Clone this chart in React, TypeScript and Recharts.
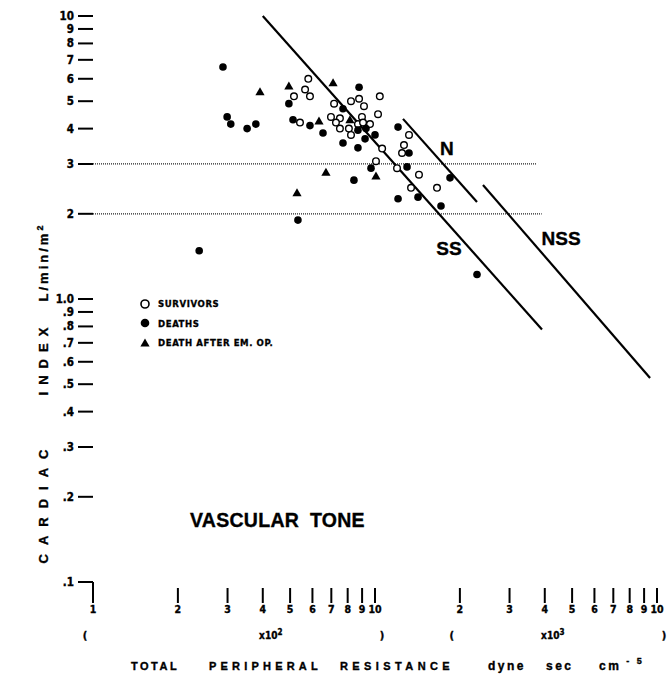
import React from "react";
import {
  ScatterChart,
  Scatter,
  XAxis,
  YAxis,
  ReferenceLine,
  ReferenceDot,
  Legend,
} from "recharts";

const FONT = "'Liberation Sans Narrow', 'DejaVu Sans Condensed', 'Liberation Sans', Arial, sans-serif";
const FONT_WIDE = "'Liberation Sans', Arial, sans-serif";

// total peripheral resistance (dyne sec cm-5) vs cardiac index (L/min/m2)
const survivors = [
  { x: 580, y: 6.0 }, { x: 516, y: 5.2 }, { x: 565, y: 5.5 }, { x: 588, y: 5.2 },
  { x: 542, y: 4.2 }, { x: 716, y: 4.9 }, { x: 822, y: 5.0 }, { x: 878, y: 5.1 },
  { x: 914, y: 4.8 }, { x: 1040, y: 5.2 }, { x: 1025, y: 4.5 }, { x: 698, y: 4.4 },
  { x: 751, y: 4.35 }, { x: 727, y: 4.2 }, { x: 751, y: 4.0 }, { x: 808, y: 4.0 },
  { x: 822, y: 3.8 }, { x: 870, y: 4.15 }, { x: 899, y: 4.4 }, { x: 907, y: 4.2 },
  { x: 960, y: 4.15 }, { x: 1060, y: 3.4 }, { x: 1008, y: 3.07 }, { x: 1320, y: 3.8 },
  { x: 1267, y: 3.5 }, { x: 1247, y: 3.28 }, { x: 1197, y: 2.9 }, { x: 1432, y: 2.75 },
  { x: 1342, y: 2.47 }, { x: 1659, y: 2.47 },
];

const deaths = [
  { x: 289, y: 6.6 }, { x: 299, y: 4.4 }, { x: 308, y: 4.15 }, { x: 352, y: 4.0 },
  { x: 378, y: 4.15 }, { x: 495, y: 4.9 }, { x: 512, y: 4.3 }, { x: 588, y: 4.1 },
  { x: 654, y: 3.86 }, { x: 878, y: 5.6 }, { x: 770, y: 4.7 }, { x: 870, y: 3.95 },
  { x: 929, y: 4.0 }, { x: 922, y: 3.68 }, { x: 1000, y: 3.8 }, { x: 770, y: 3.56 },
  { x: 870, y: 3.42 }, { x: 1207, y: 4.05 }, { x: 1320, y: 3.28 }, { x: 968, y: 2.9 },
  { x: 1299, y: 2.93 }, { x: 842, y: 2.63 }, { x: 1207, y: 2.26 }, { x: 1421, y: 2.29 },
  { x: 1714, y: 2.13 }, { x: 1845, y: 2.68 }, { x: 533, y: 1.9 }, { x: 238, y: 1.48 },
  { x: 2300, y: 1.22 },
];

const deathsAfterOp = [
  { x: 391, y: 5.4 }, { x: 495, y: 5.65 }, { x: 710, y: 5.8 }, { x: 633, y: 4.25 },
  { x: 815, y: 4.3 }, { x: 670, y: 2.8 }, { x: 1008, y: 2.72 }, { x: 529, y: 2.37 },
];

const seriesNames = ["SURVIVORS", "DEATHS", "DEATH AFTER EM. OP."];

const xTicks = [100, 200, 300, 400, 500, 600, 700, 800, 900, 1000,
  2000, 3000, 4000, 5000, 6000, 7000, 8000, 9000, 10000];
const xTickLabels = ["1", "2", "3", "4", "5", "6", "7", "8", "9", "10",
  "2", "3", "4", "5", "6", "7", "8", "9", "10"];
const yTicks = [0.1, 0.2, 0.3, 0.4, 0.5, 0.6, 0.7, 0.8, 0.9, 1, 2, 3, 4, 5, 6, 7, 8, 9, 10];
const yTickLabels = [".1", ".2", ".3", ".4", ".5", ".6", ".7", ".8", ".9", "1.0",
  "2", "3", "4", "5", "6", "7", "8", "9", "10"];

// bracket groups under the x axis
const openBrackets = [100, 2000];
const closeBrackets = [1000, 10000];
const multipliers = [{ at: 400, exp: "2" }, { at: 4000, exp: "3" }];

const lineSS = [{ x: 400, y: 10 }, { x: 3910, y: 0.78 }];
const lineN = [{ x: 1257, y: 4.33 }, { x: 2300, y: 2.2 }];
const lineNSS = [{ x: 2415, y: 2.53 }, { x: 9450, y: 0.526 }];
const dotted3 = [{ x: 100, y: 3 }, { x: 3750, y: 3 }];
const dotted2 = [{ x: 100, y: 2 }, { x: 3900, y: 2 }];
const lineLabels = [
  { x: 1800, y: 3.42, text: "N" },
  { x: 1830, y: 1.51, text: "SS" },
  { x: 4570, y: 1.64, text: "NSS" },
];

// heavy scan look
const INK = { fill: "#000", stroke: "#000", strokeWidth: 0.35 };

const OpenDot = (p: any) => (
  <circle cx={p.cx} cy={p.cy} r={3.3} fill="#fff" stroke="#000" strokeWidth={1.4} />
);
const FilledDot = (p: any) => <circle cx={p.cx} cy={p.cy} r={3.8} fill="#000" />;
const Tri = (p: any) => (
  <polygon
    points={`${p.cx},${p.cy - 4.6} ${p.cx + 4.6},${p.cy + 3.4} ${p.cx - 4.6},${p.cy + 3.4}`}
    fill="#000"
  />
);

function YTick(props: any) {
  const { x, y, payload } = props;
  const i = yTicks.indexOf(payload.value);
  return (
    <g>
      <line x1={x - 15} x2={x} y1={y} y2={y} stroke="#000" strokeWidth={2} />
      <text x={x - 19} y={y} dy={4} textAnchor="end" fontFamily={FONT} fontWeight="bold" fontSize={11.5} {...INK}>
        {yTickLabels[i]}
      </text>
    </g>
  );
}

function XTick(props: any) {
  const { x, y, payload } = props;
  const v = payload.value;
  const i = xTicks.indexOf(v);
  const mult = multipliers.find((m) => m.at === v);
  return (
    <g fontFamily={FONT} fontWeight="bold" {...INK}>
      <line x1={x} x2={x} y1={i === 0 ? y : y + 6} y2={y + 21} stroke="#000" strokeWidth={2} />
      <text x={x} y={y + 31} textAnchor="middle" fontSize={10.5}>{xTickLabels[i]}</text>
      {openBrackets.includes(v) && (
        <text x={x - 8} y={y + 57} textAnchor="middle" fontSize={11}>(</text>
      )}
      {closeBrackets.includes(v) && (
        <text x={x + 7} y={y + 57} textAnchor="middle" fontSize={11}>)</text>
      )}
      {mult && (
        <text x={x + 8} y={y + 57} textAnchor="middle" fontSize={10}>
          x10<tspan dy={-4} fontSize={8}>{mult.exp}</tspan>
        </text>
      )}
    </g>
  );
}

function XTitle(props: any) {
  const { x, y } = props.viewBox;
  const base = y + 88;
  const st = { fontFamily: FONT_WIDE, fontWeight: "bold" as const, fontSize: 11, ...INK };
  return (
    <g>
      <text x={x + 38} y={base} {...st} letterSpacing={2.5}>TOTAL</text>
      <text x={x + 116} y={base} {...st} letterSpacing={4.2}>PERIPHERAL</text>
      <text x={x + 247} y={base} {...st} letterSpacing={4.4}>RESISTANCE</text>
      <text x={x + 395} y={base} {...st} fontSize={12} letterSpacing={2.5}>dyne</text>
      <text x={x + 453} y={base} {...st} fontSize={12} letterSpacing={2.5}>sec</text>
      <text x={x + 506} y={base} {...st} fontSize={12} letterSpacing={2.5}>
        cm<tspan dx={5} dy={-6} fontSize={9}>- 5</tspan>
      </text>
    </g>
  );
}

function YTitle(props: any) {
  const { x, y } = props.viewBox;
  const cx = x + 43;
  const st = { fontFamily: FONT_WIDE, fontWeight: "bold" as const, fontSize: 13, textAnchor: "middle" as const, ...INK };
  const piece = (cy: number, txt: React.ReactNode, ls: number) => (
    <text x={cx} y={cy} dy={4.5} transform={`rotate(-90, ${cx}, ${cy})`} letterSpacing={ls} {...st}>
      {txt}
    </text>
  );
  return (
    <g>
      {piece(y + 486, "CARDIAC", 9)}
      {piece(y + 342, "INDEX", 7)}
      {piece(y + 246, <>L/min/m<tspan dy={-5} fontSize={9}>2</tspan></>, 3)}
    </g>
  );
}

const legendMarks: Record<string, (cx: number, cy: number) => React.ReactNode> = {
  SURVIVORS: (cx, cy) => <circle cx={cx} cy={cy} r={4} fill="#fff" stroke="#000" strokeWidth={1.6} />,
  DEATHS: (cx, cy) => <circle cx={cx} cy={cy} r={4.3} fill="#000" />,
  "DEATH AFTER EM. OP.": (cx, cy) => (
    <polygon points={`${cx},${cy - 4.5} ${cx + 4.6},${cy + 3.5} ${cx - 4.6},${cy + 3.5}`} fill="#000" />
  ),
};

function LegendBox(props: any) {
  const { payload = [] } = props;
  const items = [...payload].sort(
    (a: any, b: any) => seriesNames.indexOf(a.value) - seriesNames.indexOf(b.value)
  );
  return (
    <div style={{ fontFamily: FONT, fontWeight: "bold", fontSize: 9.5, letterSpacing: 0.6, WebkitTextStroke: "0.3px #000" }}>
      {items.map((entry: any) => (
        <div key={entry.value} style={{ display: "flex", alignItems: "center", height: 19.5 }}>
          <svg width={14} height={12} style={{ marginRight: 5 }}>
            {legendMarks[entry.value]?.(6, 6)}
          </svg>
          <span>{entry.value}</span>
        </div>
      ))}
    </div>
  );
}

function VascularTone(p: any) {
  const st = { fontFamily: FONT_WIDE, fontWeight: "bold" as const, fontSize: 19.5, ...INK };
  return (
    <g>
      <text x={p.cx - 87} y={p.cy + 8} textAnchor="start" letterSpacing={0.3} {...st}>VASCULAR</text>
      <text x={p.cx + 88} y={p.cy + 8} textAnchor="end" letterSpacing={0.3} {...st}>TONE</text>
    </g>
  );
}

export default function App() {
  return (
    <div style={{ position: "absolute", left: 0, top: 0, background: "#fff" }}>
      <ScatterChart width={668} height={688} margin={{ top: 16, right: 11, bottom: 0, left: 0 }}>
        <XAxis
          type="number"
          dataKey="x"
          scale="log"
          domain={[100, 10000]}
          ticks={xTicks}
          interval={0}
          tick={<XTick />}
          tickSize={0}
          tickMargin={0}
          axisLine={false}
          tickLine={false}
          height={106}
          label={(p: any) => <XTitle {...p} />}
        />
        <YAxis
          type="number"
          dataKey="y"
          scale="log"
          domain={[0.1, 10]}
          ticks={yTicks}
          interval={0}
          tick={<YTick />}
          tickSize={0}
          tickMargin={0}
          axisLine={false}
          tickLine={false}
          width={93}
          label={(p: any) => <YTitle {...p} />}
        />
        <ReferenceLine segment={dotted3} stroke="#222" strokeWidth={1.2} strokeDasharray="1 1" ifOverflow="visible" />
        <ReferenceLine segment={dotted2} stroke="#222" strokeWidth={1.2} strokeDasharray="1 1" ifOverflow="visible" />
        <ReferenceLine segment={lineSS} stroke="#000" strokeWidth={2.2} ifOverflow="visible" />
        <ReferenceLine segment={lineN} stroke="#000" strokeWidth={2.2} ifOverflow="visible" />
        <ReferenceLine segment={lineNSS} stroke="#000" strokeWidth={2.2} ifOverflow="visible" />
        {lineLabels.map((l) => (
          <ReferenceDot
            key={l.text}
            x={l.x}
            y={l.y}
            r={0}
            ifOverflow="visible"
            shape={(p: any) => (
              <text x={p.cx} y={p.cy} dy={7} textAnchor="middle" fontFamily={FONT_WIDE} fontWeight="bold" fontSize={19} {...INK}>
                {l.text}
              </text>
            )}
          />
        ))}
        <ReferenceDot x={449} y={0.167} r={0} ifOverflow="visible" shape={(p: any) => <VascularTone {...p} />} />
        <Scatter name={seriesNames[0]} data={survivors} shape={OpenDot} isAnimationActive={false} />
        <Scatter name={seriesNames[1]} data={deaths} shape={FilledDot} isAnimationActive={false} />
        <Scatter name={seriesNames[2]} data={deathsAfterOp} shape={Tri} isAnimationActive={false} />
        <Legend
          layout="vertical"
          align="center"
          verticalAlign="middle"
          content={<LegendBox />}
          wrapperStyle={{ left: 139, top: 294, width: 200 }}
        />
      </ScatterChart>
    </div>
  );
}
